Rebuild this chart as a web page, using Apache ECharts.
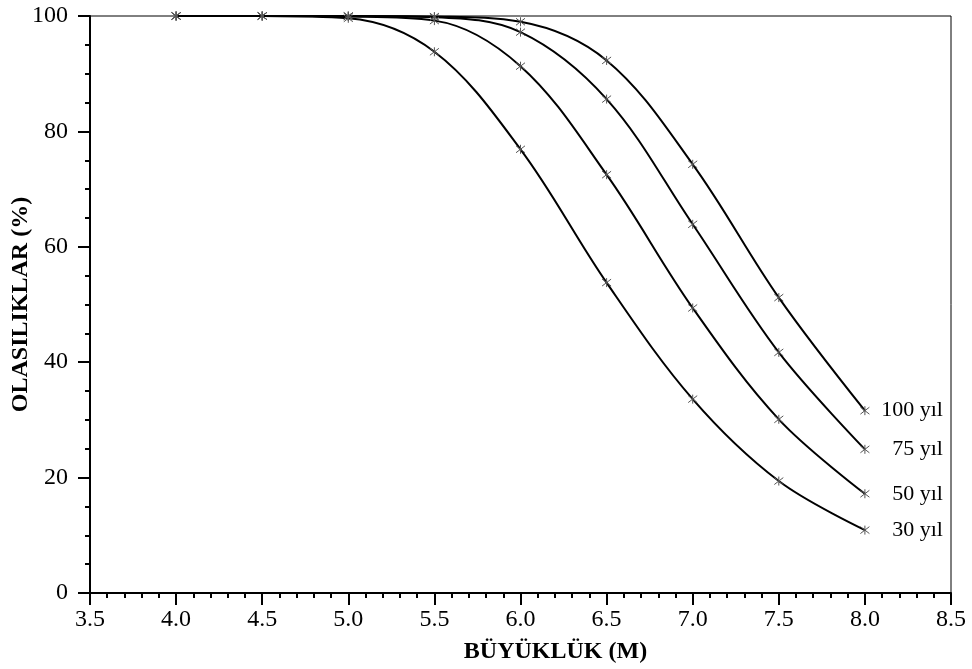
<!DOCTYPE html>
<html>
<head>
<meta charset="utf-8">
<script src="https://cdn.jsdelivr.net/npm/echarts@6/dist/echarts.min.js"></script>
<style>
    html, body { margin: 0; padding: 0; background: #fff; }
    #chart { width: 972px; height: 669px; }
</style>
</head>
<body>
<div id="chart"></div>
<script>
// büyüklük (M)
var magnitudes = [4.0, 4.5, 5.0, 5.5, 6.0, 6.5, 7.0, 7.5, 8.0];
// olasılıklar (%) - her periyot için
var p30 = [100, 100, 99.6, 93.8, 76.9, 53.8, 33.6, 19.4, 10.9];
var p50 = [100, 100, 99.9, 99.2, 91.3, 72.5, 49.4, 30.1, 17.2];
var p75 = [100, 100, 100, 99.8, 97.2, 85.6, 63.9, 41.7, 24.9];
var p100 = [100, 100, 100, 99.9, 99.0, 92.3, 74.3, 51.2, 31.6];
var seriesNames = ['100 yıl', '75 yıl', '50 yıl', '30 yıl'];

var font = "'Liberation Serif', 'Times New Roman', serif";
var star = 'path://M0,0L10,10M10,0L0,10M5,-1.5L5,11.5';

function pairs(values) {
    var out = [];
    for (var i = 0; i < magnitudes.length; i++) {
        out.push([magnitudes[i], values[i]]);
    }
    return out;
}

function makeSeries(name, values) {
    return {
        name: name,
        type: 'line',
        smooth: 0.35,
        data: pairs(values),
        symbol: star,
        symbolSize: 9,
        lineStyle: {color: '#000', width: 2},
        itemStyle: {color: 'transparent', borderColor: '#555', borderWidth: 1},
        endLabel: {
            show: true,
            formatter: name,
            distance: 78,
            align: 'right',
            color: '#000',
            fontFamily: font,
            fontSize: 22
        },
        z: 3
    };
}

var chart = echarts.init(document.getElementById('chart'));
chart.setOption({
    animation: false,
    backgroundColor: '#fff',
    grid: {
        left: 90,
        right: 21,
        top: 16,
        bottom: 76,
        containLabel: false,
        outerBoundsMode: 'none',
        show: true,
        borderColor: '#000',
        borderWidth: 1
    },
    xAxis: {
        type: 'value',
        min: 3.5,
        max: 8.5,
        interval: 0.5,
        name: 'BÜYÜKLÜK (M)',
        nameLocation: 'middle',
        nameGap: 47,
        nameMoveOverlap: false,
        nameTextStyle: {
            fontFamily: font, fontSize: 24, fontWeight: 'bold', color: '#000',
            padding: [0, 0, 0, 70]
        },
        axisLine: {lineStyle: {color: '#000', width: 2}},
        axisTick: {length: 12, lineStyle: {color: '#000', width: 2}},
        minorTick: {show: true, splitNumber: 5, length: 5, lineStyle: {color: '#000', width: 2}},
        splitLine: {show: false},
        axisLabel: {
            margin: 15,
            fontFamily: font, fontSize: 24, color: '#000',
            formatter: function (v) { return v.toFixed(1); }
        }
    },
    yAxis: {
        type: 'value',
        min: 0,
        max: 100,
        interval: 20,
        name: 'OLASILIKLAR (%)',
        nameLocation: 'middle',
        nameGap: 57,
        nameMoveOverlap: false,
        nameTextStyle: {fontFamily: font, fontSize: 24, fontWeight: 'bold', color: '#000'},
        axisLine: {show: true, lineStyle: {color: '#000', width: 2}},
        axisTick: {show: true, length: 12, lineStyle: {color: '#000', width: 2}},
        minorTick: {show: true, splitNumber: 4, length: 5, lineStyle: {color: '#000', width: 2}},
        splitLine: {show: false},
        axisLabel: {margin: 22, fontFamily: font, fontSize: 24, color: '#000'}
    },
    series: [
        makeSeries(seriesNames[0], p100),
        makeSeries(seriesNames[1], p75),
        makeSeries(seriesNames[2], p50),
        makeSeries(seriesNames[3], p30)
    ]
});

window.onresize = function () {
    chart.resize();
};
</script>
</body>
</html>
